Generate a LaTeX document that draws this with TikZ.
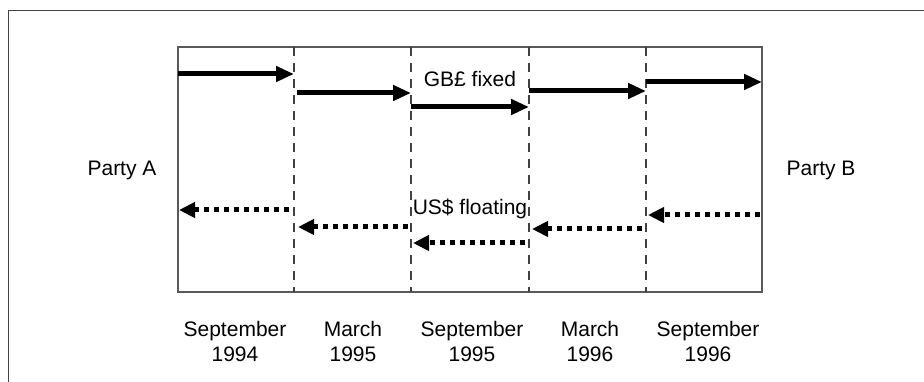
\documentclass[tikz,border=0pt]{standalone}
\usepackage{fontspec}
\setmainfont{Liberation Sans}
\usetikzlibrary{arrows.meta}
\begin{document}
\begin{tikzpicture}[x=1pt,y=-1pt,
  lbl/.style={font=\fontsize{21}{25}\selectfont, inner sep=0pt, align=center, text=black},
  frame/.style={draw=black!75, line width=1.5pt},
  cell/.style={draw=black!65, line width=1.1pt},
  divider/.style={draw=black!75, line width=1.1pt, dash pattern=on 9pt off 7pt},
  fixedarrow/.style={draw=black, line width=5pt, -{Triangle[length=18pt,width=15pt]}},
  floatarrow/.style={draw=black, line width=5pt, dash pattern=on 5pt off 5pt, -{Triangle[length=16pt,width=15pt]}}]
\useasboundingbox (0,0) rectangle (924,382);
\begin{scope}
\clip (0,0) rectangle (924,382);
\draw[frame] (8.5,10.5) rectangle (960,420);
\end{scope}
% inner box and dividers
\draw[cell] (178,47) rectangle (762,292);
\foreach \i/\x in {1/294,2/411,3/529,4/646}{
  \coordinate (t\i) at (\x,47);
  \coordinate (b\i) at (\x,292);
  \draw[divider] (t\i) -- (b\i);
}
% fixed GBP arrows
\coordinate (f1s) at (178,74);  \coordinate (f1e) at (294,74);
\coordinate (f2s) at (297,93);  \coordinate (f2e) at (411,93);
\coordinate (f3s) at (411,107); \coordinate (f3e) at (529,107);
\coordinate (f4s) at (529,91);  \coordinate (f4e) at (646,91);
\coordinate (f5s) at (646,82);  \coordinate (f5e) at (762,82);
\foreach \i in {1,...,5}{ \draw[fixedarrow] (f\i s) -- (f\i e); }
% floating USD arrows
\coordinate (u1s) at (289,210); \coordinate (u1e) at (179,210);
\coordinate (u2s) at (408,227); \coordinate (u2e) at (298,227);
\coordinate (u3s) at (525,243); \coordinate (u3e) at (413,243);
\coordinate (u4s) at (642,229); \coordinate (u4e) at (532,229);
\coordinate (u5s) at (760,215); \coordinate (u5e) at (648,215);
\foreach \i in {1,...,5}{ \draw[floatarrow] (u\i s) -- (u\i e); }
% labels
\node[lbl] (gbp) at (470,79) {GB£ fixed};
\node[lbl] (usd) at (470,209) {US\$ floating};
\node[lbl] (pa) at (122,170) {Party A};
\node[lbl] (pb) at (821,170) {Party B};
\node[lbl] (d1) at (235,341) {September\\1994};
\node[lbl] (d2) at (353,341) {March\\1995};
\node[lbl] (d3) at (472,341) {September\\1995};
\node[lbl] (d4) at (590,341) {March\\1996};
\node[lbl] (d5) at (708,341) {September\\1996};
\end{tikzpicture}
\end{document}
